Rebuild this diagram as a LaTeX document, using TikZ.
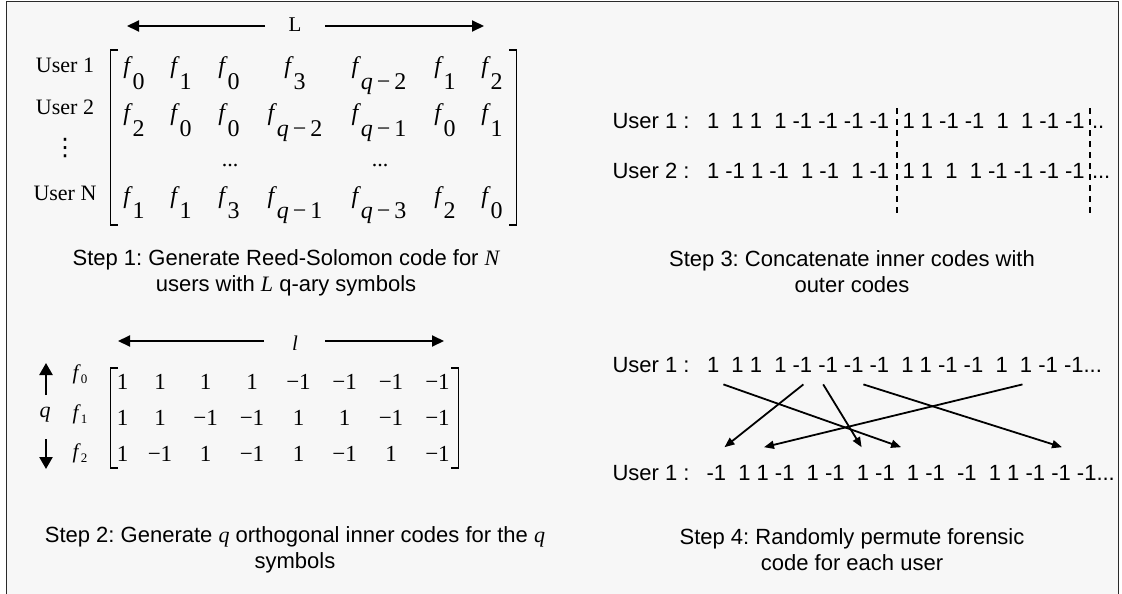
\documentclass[tikz,border=0pt]{standalone}
\usepackage{fontspec}
\setmainfont{Liberation Serif}
\newfontfamily\arial{Liberation Sans}
\newfontfamily\dejavu{DejaVu Sans}
\usetikzlibrary{arrows.meta}
\frenchspacing
\definecolor{bgcol}{HTML}{F7F7F7}
\definecolor{framecol}{HTML}{2A2A2A}
\newcommand{\fsub}[1]{\textit{f}\raisebox{-15.5pt}{#1}}
\newcommand{\qm}[1]{\textit{q}\,−\,#1}
\newcommand{\fsmall}[1]{{\fontsize{21}{21}\selectfont\textit{f}}\raisebox{-4pt}{\fontsize{13}{13}\selectfont #1}}
\tikzset{
  every node/.style={inner sep=0pt, outer sep=0pt},
  stepcap/.style={font=\arial\fontsize{22}{26}\selectfont\frenchspacing, align=center, anchor=base},
  codeline/.style={font=\arial\fontsize{22}{26}\selectfont, anchor=base west},
  userlbl/.style={font=\fontsize{22}{26}\selectfont, anchor=base},
  ent/.style={font=\fontsize{24}{28}\selectfont, anchor=base},
  bitval/.style={font=\fontsize{23}{27}\selectfont, anchor=base},
  dimlbl/.style={font=\fontsize{21}{21}\selectfont, anchor=base},
  bigarrow/.style={line width=2pt, -{Triangle[length=12pt,width=11pt]}},
  qarrow/.style={line width=2.5pt, -{Triangle[length=12pt,width=13pt]}},
  permarrow/.style={line width=1.8pt, -{Triangle[length=10pt,width=8pt]}},
  bracket/.style={line width=1.3pt},
  sepline/.style={line width=1.4pt, dash pattern=on 6pt off 5pt},
}
\begin{document}
\begin{tikzpicture}[x=1pt,y=-1pt]
\fill[white] (0,0) rectangle (1122,594);
\useasboundingbox (0,0) rectangle (1122,594);
\clip (0,0) rectangle (1122,594);
\filldraw[fill=bgcol, draw=framecol, line width=1.5pt] (6.5,600) -- (6.5,1.5) -- (1118.5,1.5) -- (1118.5,600);

% ---------- Step 1 ----------
\node[dimlbl] (Lbl) at (295,32) {L};
\coordinate (Lls) at (265,26); \coordinate (Llt) at (127,26);
\coordinate (Lrs) at (325,26); \coordinate (Lrt) at (484,26);
\draw[bigarrow] (Lls) -- (Llt);
\draw[bigarrow] (Lrs) -- (Lrt);

\node[userlbl] (u1) at (65,73) {User 1};
\node[userlbl] (u2) at (65,114) {User 2};
\node[font=\dejavu\fontsize{24}{24}\selectfont] (uv) at (65,148) {⋮};
\node[userlbl] (uN) at (65,200) {User N};

\draw[bracket] (118,50) -- (110.5,50) -- (110.5,225) -- (118,225);
\draw[bracket] (509,50) -- (516.5,50) -- (516.5,225) -- (509,225);

\node[ent] (m11) at (134,74) {\fsub{0}};
\node[ent] (m12) at (181,74) {\fsub{1}};
\node[ent] (m13) at (229,74) {\fsub{0}};
\node[ent] (m14) at (295,74) {\fsub{3}};
\node[ent] (m15) at (379,74) {\fsub{\qm{2}}};
\node[ent] (m16) at (445,74) {\fsub{1}};
\node[ent] (m17) at (492,74) {\fsub{2}};

\node[ent] (m21) at (134,121) {\fsub{2}};
\node[ent] (m22) at (181,121) {\fsub{0}};
\node[ent] (m23) at (229,121) {\fsub{0}};
\node[ent] (m24) at (295,121) {\fsub{\qm{2}}};
\node[ent] (m25) at (379,121) {\fsub{\qm{1}}};
\node[ent] (m26) at (445,121) {\fsub{0}};
\node[ent] (m27) at (492,121) {\fsub{1}};

\node[userlbl] (md1) at (230,166) {...};
\node[userlbl] (md2) at (380,166) {...};

\node[ent] (mN1) at (134,203) {\fsub{1}};
\node[ent] (mN2) at (181,203) {\fsub{1}};
\node[ent] (mN3) at (229,203) {\fsub{3}};
\node[ent] (mN4) at (295,203) {\fsub{\qm{1}}};
\node[ent] (mN5) at (379,203) {\fsub{\qm{3}}};
\node[ent] (mN6) at (445,203) {\fsub{2}};
\node[ent] (mN7) at (492,203) {\fsub{0}};

\node[stepcap] (cap1) at (286,291) {Step 1: Generate Reed-Solomon code for {\rmfamily\itshape N}\\users with {\rmfamily\itshape L} q-ary symbols};

% ---------- Step 2 ----------
\node[dimlbl] (lbl) at (295,350) {\textit{l}};
\coordinate (lls) at (264,341); \coordinate (llt) at (118,341);
\coordinate (lrs) at (325,341); \coordinate (lrt) at (444,341);
\draw[bigarrow] (lls) -- (llt);
\draw[bigarrow] (lrs) -- (lrt);

\node[userlbl] (qlbl) at (45,417) {\textit{q}};
\coordinate (qus) at (46,395); \coordinate (qut) at (46,363);
\coordinate (qds) at (46,439); \coordinate (qdt) at (46,469);
\draw[qarrow] (qus) -- (qut);
\draw[qarrow] (qds) -- (qdt);

\node[anchor=base] (f0) at (80,379) {\fsmall{0}};
\node[anchor=base] (f1) at (80,419) {\fsmall{1}};
\node[anchor=base] (f2) at (80,458) {\fsmall{2}};

\draw[bracket] (118,368) -- (110.5,368) -- (110.5,468) -- (118,468);
\draw[bracket] (451,368) -- (458.5,368) -- (458.5,468) -- (451,468);

\foreach \x/\v [count=\c] in {122.5/1,160/1,205.7/1,252/1,298.5/−1,344.6/−1,391/−1,437.5/−1}
  \node[bitval] (b1\c) at (\x,389) {\v};
\foreach \x/\v [count=\c] in {122.5/1,160/1,205.7/−1,252/−1,298.5/1,344.6/1,391/−1,437.5/−1}
  \node[bitval] (b2\c) at (\x,425) {\v};
\foreach \x/\v [count=\c] in {122.5/1,160/−1,205.7/1,252/−1,298.5/1,344.6/−1,391/1,437.5/−1}
  \node[bitval] (b3\c) at (\x,461) {\v};

\node[stepcap] (cap2) at (295,568) {Step 2: Generate {\rmfamily\itshape q} orthogonal inner codes for the {\rmfamily\itshape q}\\symbols};

% ---------- Step 3 ----------
\node[codeline] (s3u1) at (612.5,128) {User 1 :};
\node[codeline] (s3u2) at (612.5,178) {User 2 :};
\node[codeline] (s3a1) at (707,128) {1~~1~1~~1~-1~-1~-1~-1};
\node[codeline] (s3a2) at (902.5,128) {1~1~-1~-1~~1~~1~-1~-1};
\node[codeline] (s3a3) at (1092,128) {..};
\node[codeline] (s3b1) at (707,178) {1~-1~1~-1~~1~-1~~1~-1};
\node[codeline] (s3b2) at (902.5,178) {1~1~~1~~1~-1~-1~-1~-1};
\node[codeline] (s3b3) at (1092,178) {...};
\coordinate (d1t) at (897,108); \coordinate (d1b) at (897,214);
\coordinate (d2t) at (1090,108); \coordinate (d2b) at (1090,214);
\draw[sepline] (d1t) -- (d1b);
\draw[sepline] (d2t) -- (d2b);

\node[stepcap] (cap3) at (852,292.5) {Step 3: Concatenate inner codes with\\outer codes};

% ---------- Step 4 ----------
\node[codeline] (s4u1) at (612.5,372) {User 1 :};
\node[codeline] (s4u2) at (612.5,480) {User 1 :};
\node[codeline] (s4top) at (707,372) {1~~1~1~~1~-1~-1~-1~-1~~1~1~-1~-1~~1~~1~-1~-1...};
\node[codeline] (s4bot) at (706.5,480) {-1~~1~1~-1~~1~-1~~1~-1~~1~-1~~-1~~1~1~-1~-1~-1...};

\coordinate (p1s) at (723.4,384.4); \coordinate (p1t) at (901.1,447.2);
\coordinate (p2s) at (803.4,384.4); \coordinate (p2t) at (724.5,447.2);
\coordinate (p3s) at (823.2,384.4); \coordinate (p3t) at (861.6,447.2);
\coordinate (p4s) at (863.4,384.4); \coordinate (p4t) at (1062,447.2);
\coordinate (p5s) at (1022.5,384.4); \coordinate (p5t) at (764,447.2);
\draw[permarrow] (p1s) -- (p1t);
\draw[permarrow] (p2s) -- (p2t);
\draw[permarrow] (p3s) -- (p3t);
\draw[permarrow] (p4s) -- (p4t);
\draw[permarrow] (p5s) -- (p5t);

\node[stepcap] (cap4) at (852,570) {Step 4: Randomly permute forensic\\code for each user};
\end{tikzpicture}
\end{document}
